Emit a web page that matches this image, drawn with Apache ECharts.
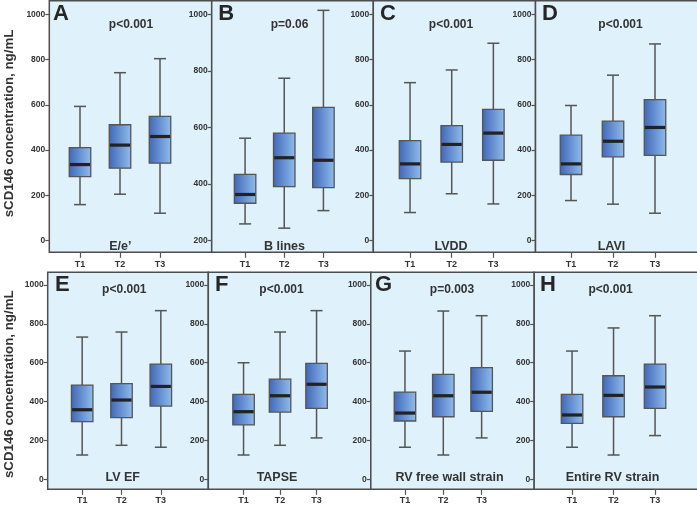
<!DOCTYPE html>
<html>
<head>
<meta charset="utf-8">
<script src="https://cdn.jsdelivr.net/npm/echarts@6/dist/echarts.min.js"></script>
<style>
  html, body { margin: 0; padding: 0; background: #ffffff; }
  #chart { width: 697px; height: 505px; }
</style>
</head>
<body>
<div id="chart"></div>
<script>
// ---------------- DATA ----------------
const categories = ['T1', 'T2', 'T3'];
// each row: [lower whisker, Q1, median, Q3, upper whisker]
const eeRatio    = [[159, 283, 336, 411, 593], [205, 320, 422, 512, 742], [121, 342, 460, 549, 804]];
const bLines     = [[259, 332, 363, 434, 562], [244, 391, 493, 580, 774], [306, 387, 484, 671, 1014]];
const lvdd       = [[124, 274, 339, 442, 698], [207, 347, 425, 508, 754], [162, 355, 475, 580, 872]];
const lavi       = [[177, 292, 339, 466, 597], [161, 370, 439, 528, 731], [121, 377, 500, 623, 869]];
const lvef       = [[125, 297, 358, 485, 732], [175, 317, 408, 492, 758], [165, 377, 478, 593, 868]];
const tapse      = [[125, 280, 348, 437, 600], [175, 346, 430, 516, 758], [213, 365, 489, 597, 868]];
const rvFreeWall = [[165, 300, 341, 449, 660], [125, 322, 430, 540, 866], [213, 350, 448, 575, 842]];
const entireRv   = [[165, 288, 331, 437, 660], [125, 322, 432, 533, 779], [225, 365, 475, 593, 842]];

const panelLetters = ['A', 'B', 'C', 'D', 'E', 'F', 'G', 'H'];
const pValues = ['p<0.001', 'p=0.06', 'p<0.001', 'p<0.001', 'p<0.001', 'p<0.001', 'p=0.003', 'p<0.001'];
const panelTitles = ['E/e\u2019', 'B lines', 'LVDD', 'LAVI', 'LV EF', 'TAPSE', 'RV free wall strain', 'Entire RV strain'];
const yTickLow = [0, 200, 0, 0, 0, 0, 0, 0];      // lowest labelled tick per panel
const yTickHigh = [1000, 1000, 1000, 1000, 1000, 1000, 1000, 1000];
const yTickStep = 200;
const yAxisTitle = 'sCD146 concentration, ng/mL';
const panelData = [eeRatio, bLines, lvdd, lavi, lvef, tapse, rvFreeWall, entireRv];

// ---------------- LAYOUT ----------------
// lowPx / highPx: pixel rows of the lowest and highest labelled ticks
const rows = [
  { lowPx: 240.6, highPx: 14.3, frameTop: 0.8, frameBottom: 252.3, letterY: 14.2, pY: 24.3, titleY: 246.5, xLabelMargin: 8, titleCY: 123.5 },
  { lowPx: 479.3, highPx: 285, frameTop: 272.3, frameBottom: 489.3, letterY: 285, pY: 289.5, titleY: 478, xLabelMargin: 6.5, titleCY: 384.2 }
];
const panels = [
  { row: 0, fx0: 49.3,  fx1: 211.7, left: 60,    width: 120,   letterX: 53,    pX: 131,   tX: 120.3 },
  { row: 0, fx0: 211.7, fx1: 373.3, left: 225.5, width: 117.5, letterX: 218.3, pX: 289.5, tX: 284.5 },
  { row: 0, fx0: 373.3, fx1: 535.5, left: 389.2, width: 125,   letterX: 380,   pX: 451,   tX: 451 },
  { row: 0, fx0: 535.5, fx1: 699,   left: 550,   width: 126,   letterX: 542,   pX: 620.5, tX: 611.5 },
  { row: 1, fx0: 47.7,  fx1: 208.3, left: 62.5,  width: 118,   letterX: 55,    pX: 124.3, tX: 122.7 },
  { row: 1, fx0: 208.3, fx1: 370.8, left: 225.3, width: 109.5, letterX: 215,   pX: 281.5, tX: 277 },
  { row: 1, fx0: 370.8, fx1: 534.2, left: 385.8, width: 115,   letterX: 375,   pX: 452,   tX: 449.5 },
  { row: 1, fx0: 534.2, fx1: 699,   left: 551.3, width: 124.5, letterX: 540,   pX: 610.6, tX: 612.5 }
];

const FONT = '"Liberation Sans", Arial, Helvetica, sans-serif';
const BOX_W = 21.5, CAP_W = 12;
const WHISKER = '#555555', BOX_STROKE = '#555555', MEDIAN = '#222222';
const boxFill = {
  type: 'linear', x: 0, y: 0, x2: 1, y2: 0,
  colorStops: [{ offset: 0, color: '#4066b8' }, { offset: 1, color: '#90bdec' }]
};

function renderBox(params, api) {
  const i = api.value(0);
  const pLo = api.coord([i, api.value(1)]);
  const pQ1 = api.coord([i, api.value(2)]);
  const pMd = api.coord([i, api.value(3)]);
  const pQ3 = api.coord([i, api.value(4)]);
  const pHi = api.coord([i, api.value(5)]);
  const cx = pLo[0];
  const wStyle = { stroke: WHISKER, lineWidth: 1.5 };
  return {
    type: 'group',
    children: [
      { type: 'line', shape: { x1: cx, y1: pHi[1], x2: cx, y2: pQ3[1] }, style: wStyle },
      { type: 'line', shape: { x1: cx, y1: pQ1[1], x2: cx, y2: pLo[1] }, style: wStyle },
      { type: 'line', shape: { x1: cx - CAP_W / 2, y1: pHi[1], x2: cx + CAP_W / 2, y2: pHi[1] }, style: wStyle },
      { type: 'line', shape: { x1: cx - CAP_W / 2, y1: pLo[1], x2: cx + CAP_W / 2, y2: pLo[1] }, style: wStyle },
      { type: 'rect', shape: { x: cx - BOX_W / 2, y: pQ3[1], width: BOX_W, height: pQ1[1] - pQ3[1] },
        style: { fill: boxFill, stroke: BOX_STROKE, lineWidth: 1.3 } },
      { type: 'line', shape: { x1: cx - BOX_W / 2 + 0.7, y1: pMd[1], x2: cx + BOX_W / 2 - 0.7, y2: pMd[1] },
        style: { stroke: MEDIAN, lineWidth: 3.2 } }
    ]
  };
}

const grids = [], xAxes = [], yAxes = [], series = [], elements = [];

panels.forEach((p, k) => {
  const r = rows[p.row];
  const lo = yTickLow[k], hi = yTickHigh[k];
  const unitPx = (r.lowPx - r.highPx) / (hi - lo);
  const yMin = lo - (r.frameBottom - r.lowPx) / unitPx;
  const yMax = hi + (r.highPx - r.frameTop) / unitPx;
  const tickVals = [];
  for (let v = lo; v <= hi; v += yTickStep) tickVals.push(v);

  grids.push({ left: p.left, top: r.frameTop, width: p.width, height: r.frameBottom - r.frameTop, containLabel: false });
  xAxes.push({
    type: 'category', gridIndex: k, data: categories, position: 'bottom',
    axisLine: { show: false, onZero: false },
    axisTick: { show: true, inside: false, alignWithLabel: true, length: 5.5, lineStyle: { color: '#555', width: 1.2 } },
    axisLabel: { fontSize: 9, fontWeight: 'bold', color: '#333', fontFamily: FONT, margin: r.xLabelMargin },
    splitLine: { show: false }
  });
  yAxes.push({
    type: 'value', gridIndex: k, min: yMin, max: yMax,
    offset: p.left - p.fx0,
    axisLine: { show: false, onZero: false },
    axisTick: { show: true, length: 4, customValues: tickVals, lineStyle: { color: '#555', width: 1.2 } },
    axisLabel: { fontSize: 8.5, fontWeight: 'bold', color: '#333', fontFamily: FONT, margin: 4,
      customValues: tickVals, formatter: v => String(Math.round(v)) },
    splitLine: { show: false }
  });
  series.push({
    type: 'custom', xAxisIndex: k, yAxisIndex: k,
    renderItem: renderBox,
    encode: { x: 0, y: [1, 2, 3, 4, 5] },
    data: panelData[k].map((d, i) => [i].concat(d)),
    z: 5, silent: true
  });
  elements.push({
    type: 'rect', z: -10,
    shape: { x: p.fx0, y: r.frameTop, width: p.fx1 - p.fx0, height: r.frameBottom - r.frameTop },
    style: { fill: '#dff1fa', stroke: '#4d4d4d', lineWidth: 1.5 }
  });
  elements.push({ type: 'text', z: 20, x: p.letterX, y: r.letterY,
    style: { text: panelLetters[k], font: 'bold 22px ' + FONT, fill: '#262626',
      textAlign: 'left', textVerticalAlign: 'middle', align: 'left', verticalAlign: 'middle' } });
  elements.push({ type: 'text', z: 20, x: p.pX, y: r.pY,
    style: { text: pValues[k], font: 'bold 12px ' + FONT, fill: '#333',
      textAlign: 'center', textVerticalAlign: 'middle', align: 'center', verticalAlign: 'middle' } });
  elements.push({ type: 'text', z: 20, x: p.tX, y: r.titleY,
    style: { text: panelTitles[k], font: 'bold 12.5px ' + FONT, fill: '#333',
      textAlign: 'center', textVerticalAlign: 'middle', align: 'center', verticalAlign: 'middle' } });
});

rows.forEach(r => {
  elements.push({ type: 'text', z: 20, x: 9.3, y: r.titleCY, rotation: Math.PI / 2,
    style: { text: yAxisTitle, font: 'bold 13.3px ' + FONT, fill: '#333',
      textAlign: 'center', textVerticalAlign: 'middle', align: 'center', verticalAlign: 'middle' } });
});

const chart = echarts.init(document.getElementById('chart'), null, { renderer: 'canvas' });
chart.setOption({
  backgroundColor: '#ffffff',
  animation: false,
  grid: grids,
  xAxis: xAxes,
  yAxis: yAxes,
  series: series,
  graphic: { elements: elements }
});
</script>
</body>
</html>
